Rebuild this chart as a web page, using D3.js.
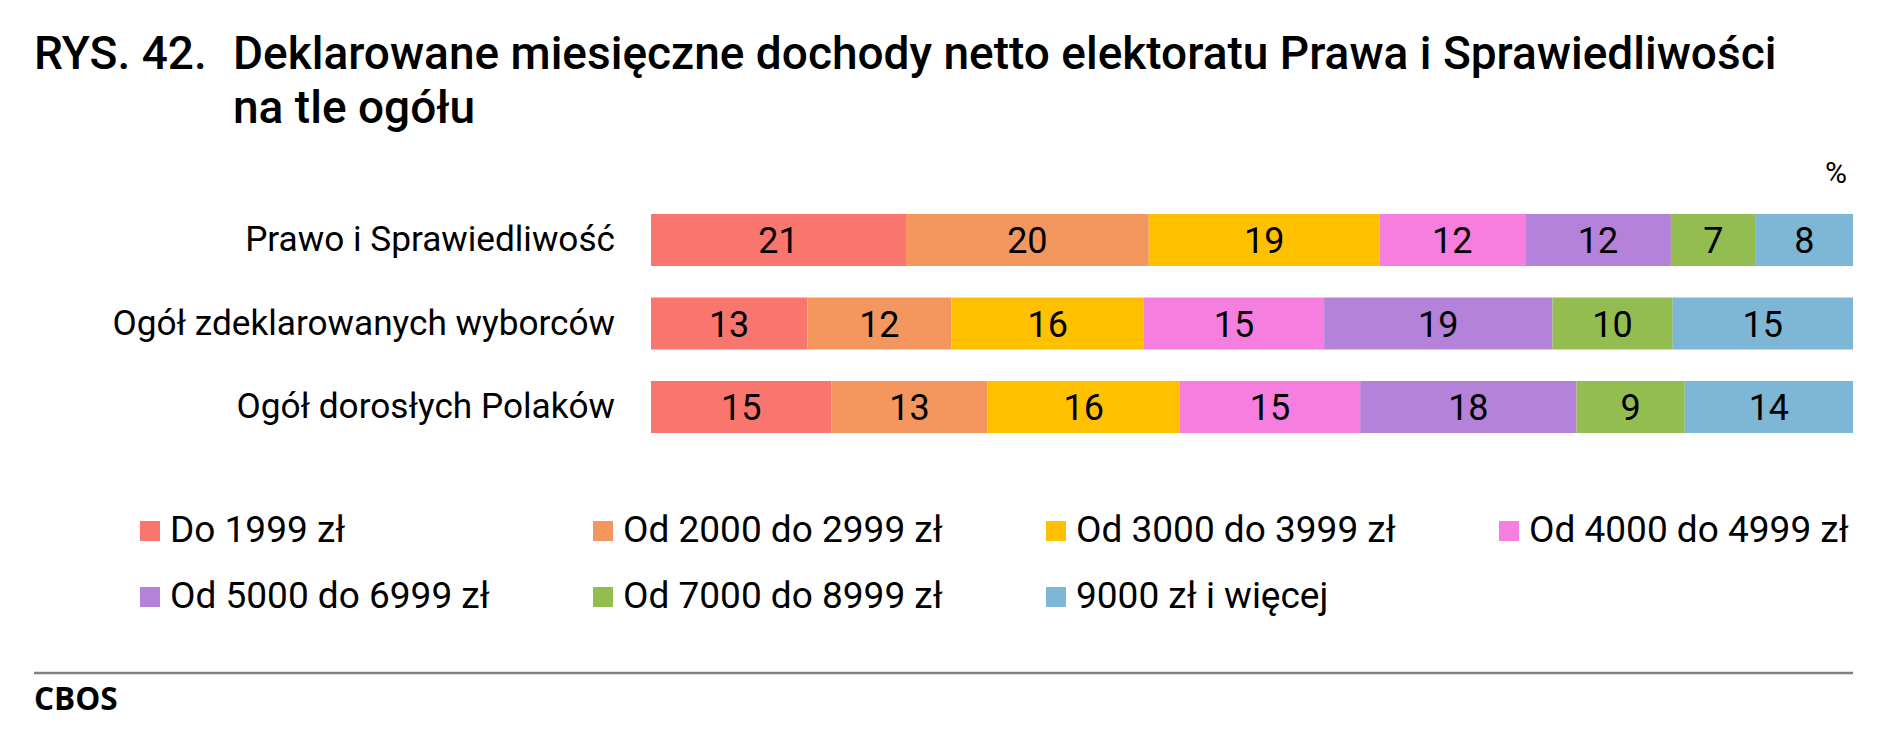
<!DOCTYPE html>
<html>
<head>
<meta charset="utf-8">
<script src="https://cdn.jsdelivr.net/npm/d3@7"></script>
<style>
  html, body { margin: 0; padding: 0; background: #fff; }
  svg { display: block; font-family: Roboto, "Noto Sans", sans-serif; }
</style>
</head>
<body>
<svg id="chart" width="1890" height="737"></svg>
<script>
// data
const categories = ["Prawo i Sprawiedliwość", "Ogół zdeklarowanych wyborców", "Ogół dorosłych Polaków"];
const incomeGroups = ["Do 1999 zł", "Od 2000 do 2999 zł", "Od 3000 do 3999 zł", "Od 4000 do 4999 zł",
                      "Od 5000 do 6999 zł", "Od 7000 do 8999 zł", "9000 zł i więcej"];
const pisValues = [21, 20, 19, 12, 12, 7, 8];
const votersValues = [13, 12, 16, 15, 19, 10, 15];
const adultsValues = [15, 13, 16, 15, 18, 9, 14];
const groupColors = ["#F8766D", "#F4975F", "#FFC000", "#F57EDE", "#B483D9", "#93BD51", "#7EB7D5"];

const titleLines = ["Deklarowane miesięczne dochody netto elektoratu Prawa i Sprawiedliwości", "na tle ogółu"];

const svg = d3.select("#chart");

// rows for the stack, one per category
const rows = [pisValues, votersValues, adultsValues].map(function(vals, i) {
    var row = { category: categories[i] };
    incomeGroups.forEach(function(g, j) { row[g] = vals[j]; });
    return row;
});

// bars fill the full width (first row sums to 99)
const stack = d3.stack().keys(incomeGroups).offset(d3.stackOffsetExpand);
const series = stack(rows);

const x = d3.scaleLinear().domain([0, 1]).range([651, 1853]);
const y = d3.scaleBand().domain(categories).range([214, 433]).paddingInner(0.377).paddingOuter(0);
const color = d3.scaleOrdinal().domain(incomeGroups).range(groupColors);

// title
svg.append("text")
    .attr("x", 34).attr("y", 69)
    .style("font-size", "46px").style("font-weight", 500)
    .text("RYS. 42.");
svg.selectAll(".title-line")
    .data(titleLines)
    .enter()
    .append("text")
    .attr("class", "title-line")
    .attr("x", 233)
    .attr("y", function(d, i) { return 69 + i * 54; })
    .style("font-size", "46px").style("font-weight", 500)
    .text(function(d) { return d; });

svg.append("text")
    .attr("x", 1847).attr("y", 183)
    .attr("text-anchor", "end")
    .style("font-size", "30px")
    .text("%");

// category labels
svg.selectAll(".cat")
    .data(categories)
    .enter()
    .append("text")
    .attr("class", "cat")
    .attr("x", 615)
    .attr("y", function(d) { return y(d) + y.bandwidth() / 2 + 11; })
    .attr("text-anchor", "end")
    .style("font-family", "Roboto")
    .style("font-size", "35.2px")
    .text(function(d) { return d; });

// segments
const groups = svg.selectAll(".series")
    .data(series)
    .enter()
    .append("g")
    .attr("class", "series")
    .attr("fill", function(d) { return color(d.key); });

groups.selectAll("rect")
    .data(function(d) { return d; })
    .enter()
    .append("rect")
    .attr("x", function(d) { return x(d[0]); })
    .attr("y", function(d) { return y(d.data.category); })
    .attr("width", function(d) { return x(d[1]) - x(d[0]); })
    .attr("height", y.bandwidth());

groups.selectAll("text")
    .data(function(s) { return s.map(function(d) { return { seg: d, key: s.key }; }); })
    .enter()
    .append("text")
    .attr("x", function(d) { return (x(d.seg[0]) + x(d.seg[1])) / 2; })
    .attr("y", function(d) { return y(d.seg.data.category) + y.bandwidth() / 2 + 13; })
    .attr("text-anchor", "middle")
    .attr("fill", "#000")
    .style("font-family", "Roboto")
    .style("font-size", "36px")
    .text(function(d) { return d.seg.data[d.key]; });

// legend
const legend = svg.selectAll(".legend")
    .data(incomeGroups)
    .enter()
    .append("g")
    .attr("class", "legend")
    .attr("transform", function(d, i) {
        return "translate(" + (140 + (i % 4) * 453) + "," + (521 + Math.floor(i / 4) * 66) + ")";
    });

legend.append("rect")
    .attr("width", 20).attr("height", 20)
    .attr("fill", function(d) { return color(d); });

legend.append("text")
    .attr("x", 30).attr("y", 21)
    .style("font-family", "Roboto")
    .style("font-size", "37px")
    .text(function(d) { return d; });

// footer
svg.append("line")
    .attr("x1", 34).attr("x2", 1853)
    .attr("y1", 673).attr("y2", 673)
    .attr("stroke", "#808080")
    .attr("stroke-width", 2.5);

svg.append("text")
    .attr("x", 34).attr("y", 710)
    .style("font-family", "'Open Sans', sans-serif")
    .style("font-size", "31.5px").style("font-weight", 700)
    .text("CBOS");
</script>
</body>
</html>
